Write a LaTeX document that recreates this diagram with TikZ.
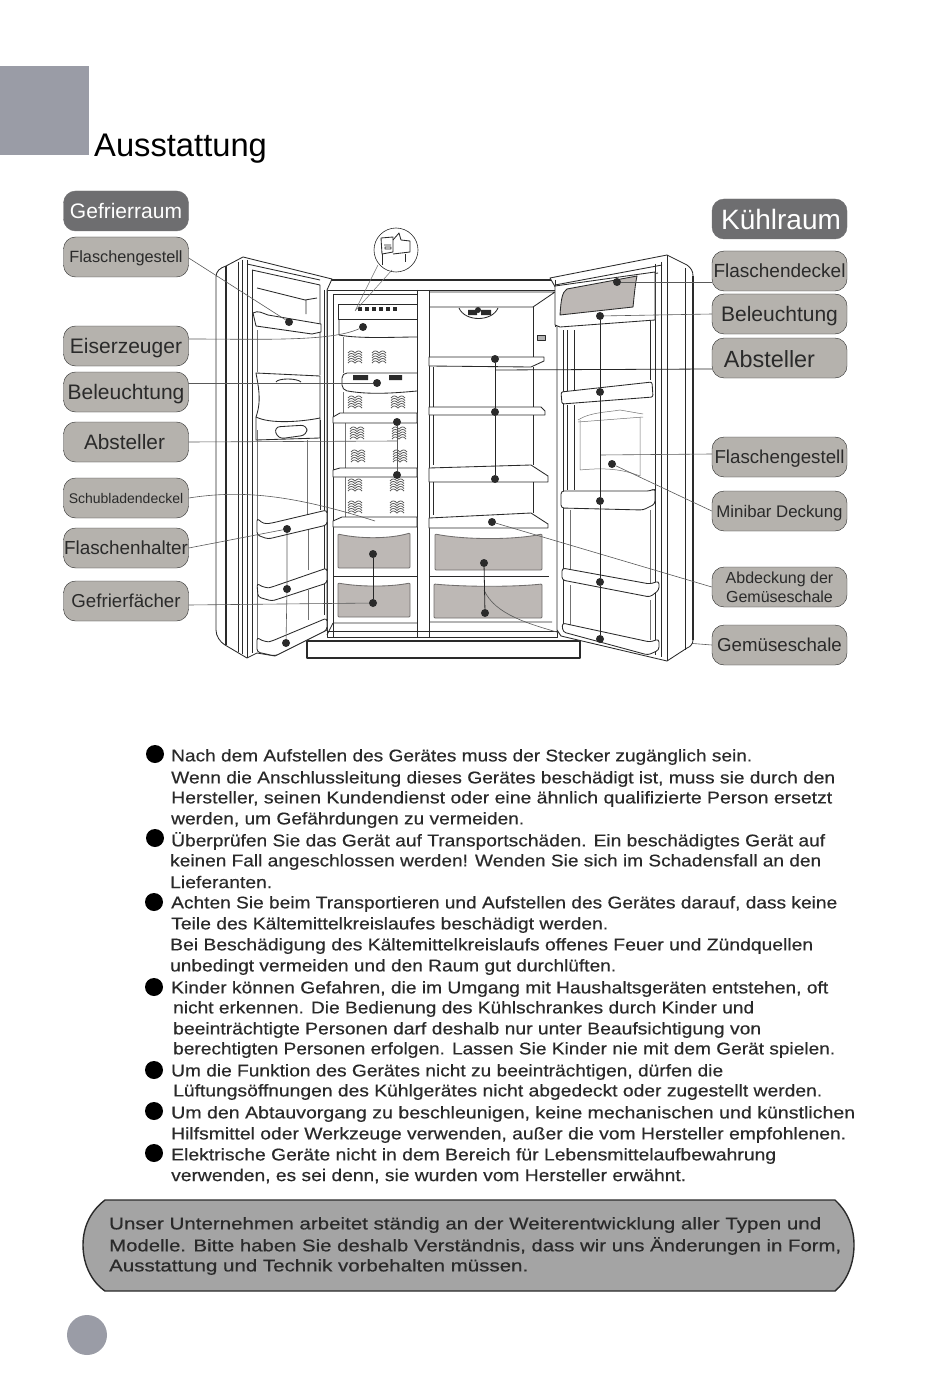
\documentclass[tikz,border=0pt]{standalone}
\usepackage{fontspec}
\setmainfont{Liberation Sans}
\newfontfamily\bodyfont[FakeBold=0.4]{Liberation Sans}
\definecolor{labelgray}{HTML}{B5B2AD}
\definecolor{labeldark}{HTML}{6E6E70}
\definecolor{pagegray}{HTML}{9A9CA6}
\definecolor{drawergray}{HTML}{BDB8B5}
\definecolor{notegray}{HTML}{A4A4A4}
\definecolor{inkgray}{HTML}{2A2A2A}
\newcommand{\fsz}[1]{\fontsize{#1}{#1}\selectfont}
\begin{document}
\begin{tikzpicture}[x=1pt,y=-1pt]
	\tikzstyle{partlabel} = [draw=inkgray, fill=labelgray, rounded corners=12pt, minimum width=125pt, minimum height=40pt, inner sep=0pt, text=inkgray, text depth=0pt]
	\tikzstyle{headlabel} = [partlabel, fill=labeldark, draw=labeldark, text=white]
	\tikzstyle{wide} = [minimum width=135pt]
	\tikzstyle{knob} = [circle, fill=inkgray, inner sep=0pt, minimum size=8pt]
	\tikzstyle{bullet} = [circle, fill=black, inner sep=0pt, minimum size=18pt]
	\tikzstyle{fridge} = [draw=inkgray, line width=0.85pt, line join=round]
	\tikzstyle{thin} = [draw=black!55, line width=0.5pt]
	\tikzstyle{lead} = [draw=black!65, line width=0.6pt]
	\tikzstyle{leaddark} = [draw=black!85, line width=0.8pt]
	\tikzstyle{textline} = [anchor=west, inner sep=0pt, text=inkgray, font=\bodyfont\fsz{17}]
	\tikzset{waves/.pic={
		\foreach \k in {-5,-2.5,0,2.5,5}
			\draw[black!65, line width=0.8pt] (-7,\k) .. controls (-4.5,\k-3) and (-2.5,\k-2.5) .. (0,\k) .. controls (2.5,\k-2.5) and (4.5,\k-3) .. (7,\k);
	}}

	\useasboundingbox (0,0) rectangle (950,1396);

	% Page marks and title
	\fill[pagegray] (0,66) rectangle (89,155);
	\node[circle, fill=pagegray, minimum size=40pt, inner sep=0pt] (pagemark) at (87,1335) {};
	\node[anchor=west, inner sep=0pt, font=\fsz{32.7}] (title) at (94,149) {Ausstattung};

	% Labels, left column
	\node[headlabel, font=\fsz{21}] (L0) at (126,211) {Gefrierraum};
	\node[partlabel, font=\fsz{16.3}] (L1) [below of=L0, node distance=46pt] {Flaschengestell};
	\node[partlabel, font=\fsz{21}] (L2) [below of=L1, node distance=89pt] {Eiserzeuger};
	\node[partlabel, font=\fsz{21}] (L3) [below of=L2, node distance=46pt] {Beleuchtung};
	\node[partlabel, font=\fsz{20.8}] (L4) [below of=L3, node distance=50pt] {\hspace*{-3pt}Absteller};
	\node[partlabel, font=\fsz{14}] (L5) [below of=L4, node distance=56pt] {Schubladendeckel};
	\node[partlabel, font=\fsz{18.9}] (L6) [below of=L5, node distance=50pt] {Flaschenhalter};
	\node[partlabel, font=\fsz{18.7}] (L7) [below of=L6, node distance=53pt] {Gefrierfächer};

	% Labels, right column
	\node[headlabel, wide, font=\fsz{28}] (R0) at (779.5,219) {\hspace*{3pt}Kühlraum};
	\node[partlabel, wide, font=\fsz{19}] (R1) [below of=R0, node distance=52pt] {Flaschendeckel};
	\node[partlabel, wide, font=\fsz{21}] (R2) [below of=R1, node distance=43pt] {Beleuchtung};
	\node[partlabel, wide, font=\fsz{23.4}] (R3) [below of=R2, node distance=44pt] {\raisebox{-3pt}{Absteller}\hspace*{20pt}};
	\node[partlabel, wide, font=\fsz{18.7}] (R4) [below of=R3, node distance=99pt] {Flaschengestell};
	\node[partlabel, wide, font=\fsz{16.8}] (R5) [below of=R4, node distance=54pt] {Minibar Deckung};
	\node[partlabel, wide, font=\fsz{16}, align=center] (R6) [below of=R5, node distance=76pt] {Abdeckung der\\[3pt]Gemüseschale};
	\node[partlabel, wide, font=\fsz{18.7}] (R7) [below of=R6, node distance=58pt] {Gemüseschale};

	% Cabinet
	\draw[fridge, line width=1.4pt] (330,280) -- (552,280);
	\draw[fridge] (322,290) -- (557,290);
	\draw[fridge] (333,294) -- (333,637) (417,290) -- (417,637) (429,290) -- (429,637);
	\draw[fridge] (327,290) -- (327,637) -- (557,637) -- (557,290);
	\draw[fridge] (327,631) -- (560,631);
	\draw[fridge] (333,623) -- (327,635) (333,623) -- (417,623) (429,622) -- (552,622);
	\draw[fridge, line width=1.2pt, fill=white] (307,641) rectangle (580,658);

	% Freezer side
	\draw[fridge] (333,294) -- (417,294);
	\draw[fridge] (338,304) rectangle (417,319);
	\draw[fridge] (339,319) -- (339,335) .. controls (360,339) and (395,337) .. (417,337);
	\draw[thin] (343,337) -- (343,373) (343,392) -- (343,417) (345,423) -- (345,468) (345,477) -- (345,517);
	\foreach \x in {360,367,374,381,388,395}
		\fill[inkgray] (\x-2,307) rectangle (\x+2,311);
	\draw[fridge, rounded corners=5pt] (417,373) -- (342,373) -- (342,390) .. controls (370,395) and (395,393) .. (417,391);
	\fill[inkgray] (353,375) rectangle (368,380) (389,375) rectangle (402,380);
	\foreach \x/\y in {355/358,379/358,355/403,398/403,357/434,399/434,358/457,400/457,355/486,397/486,355/508,397/508}
		\pic at (\x,\y) {waves};
	\draw[fridge, fill=white] (333,417) -- (340,413) -- (417,413) -- (417,423) -- (333,423) -- cycle;
	\draw[fridge, fill=white] (333,470) -- (340,468) -- (417,468) -- (417,477) -- (333,477) -- cycle;
	\draw[fridge, fill=white] (333,521) -- (342,517) -- (417,517) -- (417,527) -- (333,527) -- cycle;
	\draw[fridge, fill=drawergray, draw=drawergray!60!black, rounded corners=1pt] (338,534) .. controls (360,539) and (390,539) .. (410,533) -- (410,568) -- (338,568) -- cycle;
	\draw[fridge, fill=drawergray, draw=drawergray!60!black, rounded corners=1pt] (338,583) .. controls (360,587) and (390,587) .. (410,583) -- (410,617) -- (338,617) -- cycle;
	\draw[fridge] (333,576) -- (417,576);

	% Fridge side
	\draw[fridge] (429,292) -- (555,292) (429,307) -- (533,307) -- (555,292);
	\draw[fridge] (533,307) -- (533,357);
	\draw[fridge] (459,308) .. controls (465,322) and (492,322) .. (498,308);
	\fill[inkgray] (468,310) rectangle (477,315) (481,310) rectangle (491,315);
	\draw[fridge, fill=black!30] (537,335) rectangle (545,340);
	\draw[fridge, fill=white] (429,357) -- (544,357) -- (544,361) -- (531,367) -- (429,366) -- cycle;
	\draw[fridge, fill=white] (429,407) -- (541,407) -- (545,411) -- (545,415) -- (429,415) -- cycle;
	\draw[fridge, fill=white] (429,468) -- (531,465) -- (548,476) -- (548,482) -- (429,482) -- cycle;
	\draw[fridge, fill=white] (429,518) -- (531,513) -- (548,524) -- (548,528) -- (429,528) -- cycle;
	\draw[fridge] (433,367) -- (433,407) (533,367) -- (533,407) (433,415) -- (433,465) (533,415) -- (533,465) (433,482) -- (433,515) (533,482) -- (533,513);
	\draw[fridge, fill=drawergray, draw=drawergray!60!black, rounded corners=1pt] (435,534) .. controls (465,540) and (515,540) .. (542,534) -- (542,570) -- (435,570) -- cycle;
	\draw[fridge, fill=drawergray, draw=drawergray!60!black, rounded corners=1pt] (434,584) .. controls (465,587) and (515,587) .. (542,584) -- (542,618) -- (434,618) -- cycle;
	\draw[fridge] (429,576) -- (549,576);

	% Runs behind the right door, so it comes before the door
	\coordinate (C7) at (484,590);
	\draw[lead] (C7) .. controls (495,615) and (530,624) .. (560,633) -- (R7.west);

	% Left door
	\draw[fridge, fill=white] (216,277) .. controls (216,271) and (220,268) .. (226,266) -- (243,257) -- (332,279) -- (327,290) -- (327,630) -- (275,656) -- (257,653) -- (247,658) -- (225,645) .. controls (220,642) and (216,636) .. (216,630) -- cycle;
	\draw[fridge, line width=1.4pt] (226,266) -- (226,645);
	\draw[fridge] (238,262) -- (238,652) (242,260) -- (242,654) (247,260) -- (247,658) (252,270) -- (252,653);
	\draw[fridge] (247,264) -- (320,280) (252,270) -- (320,285) -- (320,375) (257,288) -- (305,300) -- (317,298) (306,300) -- (306,314);
	\draw[fridge] (320,420) -- (320,510) (324,290) -- (324,615);
	\draw[thin] (257,330) -- (257,372) (257,430) -- (257,640) (307,440) -- (307,515) (308,530) -- (308,570) (308,590) -- (308,620);
	\draw[fridge, fill=white] (253,313) .. controls (258,310) and (262,313) .. (268,315) -- (321,324) -- (321,332) -- (312,334) -- (256,326) -- cycle;
	\draw[fridge, fill=white] (256,373) -- (320,376) -- (320,418) .. controls (300,422) and (270,424) .. (256,417) .. controls (262,400) and (258,385) .. (256,373) -- cycle;
	\draw[fridge] (256,417) -- (256,440) -- (320,438) -- (320,418);
	\draw[fridge, rounded corners=6pt, fill=white] (274,427) -- (307,425) -- (307,435) -- (278,439) -- cycle;
	\draw[fridge] (276,382) .. controls (278,378) and (297,378) .. (301,382);
	\draw[fridge, fill=white, rounded corners=3pt] (257,518) .. controls (262,523) and (265,524) .. (272,523) -- (327,510) -- (327,525) -- (268,539) -- (257,535) -- cycle;
	\draw[fridge, fill=white, rounded corners=3pt] (257,583) .. controls (262,587) and (268,588) .. (272,587) -- (327,568) -- (327,583) -- (272,601) -- (258,597) -- cycle;
	\draw[fridge, fill=white, rounded corners=3pt] (257,637) .. controls (262,641) and (268,642) .. (272,641) -- (327,618) -- (327,630) -- (275,656) -- (257,652) -- cycle;

	% Right door
	\draw[fridge, fill=white] (550,278) -- (667,255) -- (687,265) .. controls (691,268) and (693,271) .. (693,276) -- (693,640) .. controls (693,644) and (690,647) .. (687,648) -- (667,661) -- (650,657) -- (561,636) -- (557,630) -- (557,290) -- cycle;
	\draw[fridge, line width=1.4pt] (693,276) -- (693,640);
	\draw[fridge] (685,268) -- (685,650) (667,255) -- (667,661) (661,262) -- (661,657) (655,264) -- (655,655) (650,320) -- (650,380);
	\draw[fridge] (555,280) -- (555,327) (563,330) -- (563,630) (567,330) -- (567,395) (574,330) -- (574,395) (567,405) -- (567,490) (574,405) -- (574,490);
	\draw[fridge] (555,285) -- (662,265) (558,290) -- (658,273);
	\draw[fridge, fill=white] (555,286) -- (655,272) -- (655,320) -- (560,327) -- (555,325) -- cycle;
	\draw[fridge, fill=drawergray] (560,315) .. controls (561,300) and (562,292) .. (567,289) -- (637,276) .. controls (635,285) and (634,298) .. (633,307) -- cycle;
	\draw[fridge, fill=white, rounded corners=2pt] (561,392) -- (652,382) -- (653,397) -- (562,404) -- cycle;
	\draw[thin] (578,420) .. controls (590,412) and (610,412) .. (620,410) -- (643,414) (578,422) -- (643,417);
	\draw[thin] (580,420) -- (580,470) (640,417) -- (640,476) (580,470) .. controls (600,468) and (620,468) .. (640,476);
	\draw[fridge, fill=white, rounded corners=3pt] (561,491) -- (650,491) .. controls (652,490) and (654,489) .. (655,488) -- (655,504) -- (643,510) -- (561,508) -- cycle;
	\draw[thin] (570,510) -- (570,570) (650,510) -- (650,585);
	\draw[fridge, fill=white, rounded corners=3pt] (562,568) -- (650,584) -- (659,581) -- (659,590) -- (650,597) -- (562,580) -- cycle;
	\draw[thin] (570,585) -- (570,625) (650,600) -- (650,640);
	\draw[fridge, fill=white, rounded corners=3pt] (562,623) -- (650,642) -- (659,639) -- (659,650) -- (648,655) -- (563,632) -- cycle;

	% Magnifier
	\node[circle, draw=inkgray, line width=0.6pt, minimum size=44pt, inner sep=0pt, fill=white] (magnifier) at (396,250) {};
	\draw[fridge] (381,238) -- (393,237) -- (393,252) -- (382,254) -- cycle (384,245) -- (391,245) (385,247) rectangle (391,249);
	\draw[fridge] (393,240) -- (399,233) -- (401,240) -- (410,241) -- (410,252) -- (393,254);
	\draw[fridge] (382,254) -- (382,265) (405,254) -- (405,262);
	\coordinate (M0) at (355,311);
	\draw[thin] (M0) -- (378,265) (M0) -- (392,270);

	% Knobs
	\node[knob] (D1) at (289,322) {};
	\node[knob] (D2) at (363,327) {};
	\node[knob] (D3) at (377,383) {};
	\node[knob] (D4) at (397,422) {};
	\node[knob] (D5) at (397,475) {};
	\node[knob] (D6) at (287,529) {};
	\node[knob] (D7) at (287,589) {};
	\node[knob] (D8) at (286,643) {};
	\node[knob] (D9) at (373,554) {};
	\node[knob] (D10) at (373,603) {};
	\node[knob] (E1) at (617,282) {};
	\node[knob] (E2) at (600,316) {};
	\node[knob] (E3) at (600,392) {};
	\node[knob] (E4) at (600,501) {};
	\node[knob] (E5) at (600,582) {};
	\node[knob] (E6) at (600,639) {};
	\node[knob] (E7) at (495,359) {};
	\node[knob] (E8) at (495,412) {};
	\node[knob] (E9) at (495,479) {};
	\node[knob] (E10) at (492,522) {};
	\node[knob] (E11) at (612,464) {};
	\node[knob] (E12) at (484,563) {};
	\node[knob] (E13) at (485,613) {};
	\node[knob, minimum size=6pt] (E14) at (478,310) {};
	\coordinate (C1) at (375,521);
	\coordinate (C2) at (397,441);
	\coordinate (C3) at (495,370);
	\coordinate (C4) at (600,455);

	% Leader lines, left
	\draw[lead] (L1.east) ++(0,1) -- (D1);
	\draw[lead] (L2.east) ++(0,-7) .. controls (260,339) and (330,342) .. (D2);
	\draw[lead] (L3.east) ++(0,-9) -- (D3);
	\draw[lead] (L4.east) -- (C2);
	\draw[lead] (L5.east) .. controls (240,490) and (290,494) .. (C1);
	\draw[lead] (L6.east) -- (D6);
	\draw[lead] (L7.east) ++(0,4) -- (D10);
	\draw[lead] (D4) -- (D5);
	\draw[lead] (D6) -- (D7) -- (D8);
	\draw[leaddark] (D9) -- (D10);

	% Leader lines, right
	\draw[lead] (R1.west) ++(0,11) -- (E1);
	\draw[lead] (R2.west) -- (E2);
	\draw[leaddark] (R3.west) ++(0,11) -- (C3);
	\draw[lead] (R4.west) ++(0,-3) -- (C4);
	\draw[lead] (R5.west) -- (E11);
	\draw[lead] (R6.west) -- (E10);
	\draw[leaddark] (E2) -- (E3) -- (E4) -- (E5) -- (E6);
	\draw[leaddark] (E7) -- (E8) -- (E9);
	\draw[leaddark] (E12) -- (E13);

	% Notes
	\foreach \x/\y in {155/754,155/838,154/902,154/987,154/1070,154/1111,154/1153}
		\node[bullet] (B\x\y) at (\x,\y) {};
	\foreach \x/\y/\w/\txt [count=\n] in {
		171/757/581/{Nach dem Aufstellen des Gerätes muss der Stecker zugänglich sein.},
		171/779/664/{Wenn die Anschlussleitung dieses Gerätes beschädigt ist, muss sie durch den},
		171/799/661/{Hersteller, seinen Kundendienst oder eine ähnlich qualifizierte Person ersetzt},
		171/820/353/{werden, um Gefährdungen zu vermeiden.},
		171/841/654/{Überprüfen Sie das Gerät auf Transportschäden. Ein beschädigtes Gerät auf},
		170/862/651/{keinen Fall angeschlossen werden! Wenden Sie sich im Schadensfall an den},
		170/882/102/{Lieferanten.},
		171/904/666/{Achten Sie beim Transportieren und Aufstellen des Gerätes darauf, dass keine},
		171/925/437/{Teile des Kältemittelkreislaufes beschädigt werden.},
		170/946/643/{Bei Beschädigung des Kältemittelkreislaufs offenes Feuer und Zündquellen},
		170/967/446/{unbedingt vermeiden und den Raum gut durchlüften.},
		171/989/657/{Kinder können Gefahren, die im Umgang mit Haushaltsgeräten entstehen, oft},
		173/1009/581/{nicht erkennen. Die Bedienung des Kühlschrankes durch Kinder und},
		173/1030/588/{beeinträchtigte Personen darf deshalb nur unter Beaufsichtigung von},
		173/1050/662/{berechtigten Personen erfolgen. Lassen Sie Kinder nie mit dem Gerät spielen.},
		171/1072/552/{Um die Funktion des Gerätes nicht zu beeinträchtigen, dürfen die},
		173/1092/649/{Lüftungsöffnungen des Kühlgerätes nicht abgedeckt oder zugestellt werden.},
		171/1114/684/{Um den Abtauvorgang zu beschleunigen, keine mechanischen und künstlichen},
		171/1135/675/{Hilfsmittel oder Werkzeuge verwenden, außer die vom Hersteller empfohlenen.},
		171/1156/605/{Elektrische Geräte nicht in dem Bereich für Lebensmittelaufbewahrung},
		171/1176/515/{verwenden, es sei denn, sie wurden vom Hersteller erwähnt.}}
		\node[textline] (T\n) at (\x,\y) {\resizebox{\w pt}{\height}{\txt}};

	% Bottom box
	\draw[draw=inkgray, line width=1.4pt, fill=notegray] (105,1200) -- (835,1200) .. controls (846,1210) and (854,1225) .. (854,1245) .. controls (854,1265) and (846,1282) .. (835,1291) -- (105,1291) .. controls (92,1282) and (83,1265) .. (83,1245) .. controls (83,1225) and (92,1210) .. (105,1200) -- cycle;
	\foreach \y/\w/\txt [count=\n] in {
		1225/712/{Unser Unternehmen arbeitet ständig an der Weiterentwicklung aller Typen und},
		1246/732/{Modelle. Bitte haben Sie deshalb Verständnis, dass wir uns Änderungen in Form,},
		1267/419/{Ausstattung und Technik vorbehalten müssen.}}
		\node[textline] (N\n) at (109,\y) {\resizebox{\w pt}{\height}{\txt}};
\end{tikzpicture}
\end{document}
